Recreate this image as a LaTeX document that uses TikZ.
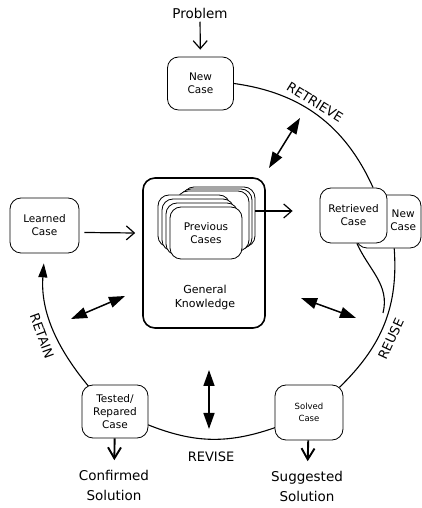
\documentclass[tikz,border=0pt]{standalone}
\usepackage{fontspec}
\setmainfont{DejaVu Sans}
\usetikzlibrary{arrows.meta,backgrounds}

\begin{document}
\begin{tikzpicture}[x=1pt,y=1pt,
  casebox/.style={draw, fill=white, line width=0.8pt, rounded corners=11pt, minimum width=66pt, minimum height=53pt, align=center, inner sep=2pt, font=\fontsize{10.5}{13}\selectfont},
  card/.style={draw, fill=white, line width=0.8pt, rounded corners=11pt, minimum width=72pt, minimum height=52pt, align=center, font=\fontsize{10.5}{13}\selectfont},
  outside/.style={align=center, font=\fontsize{13.5}{20}\selectfont},
  phase/.style={font=\fontsize{13}{15}\selectfont},
  cycle/.style={line width=1.1pt},
  barb/.style={-{Straight Barb[length=8pt,width=14pt]}, line width=1.2pt},
  solbarb/.style={-{Straight Barb[length=11pt,width=13pt]}, line width=1.9pt},
  exchange/.style={{Triangle[length=16pt,width=11pt]}-{Triangle[length=16pt,width=11pt]}, line width=1.5pt}]
\useasboundingbox (0,0) rectangle (422,508);

\node[outside] (problem) at (200,495) {Problem};
\node[casebox] (newcase) at (200.5,424.5) {New\\Case};
\node[casebox, minimum width=69pt, minimum height=55pt] (learned) at (44.5,282.5) {Learned\\Case};
\node[draw, line width=1.6pt, rounded corners=12pt, minimum width=122pt, minimum height=150pt] (gk) at (204,255) {};
\node[font=\fontsize{11}{14}\selectfont, align=center] (general) at (205,211) {General\\Knowledge};
\foreach \i in {0,1,2}
  \node[card, minimum height=60pt] (back\i) at ({219-3*\i},{291-2*\i}) {};
\foreach \i in {0,1,2}
  \node[card] (front\i) at ({194+4*\i},{287-4*\i}) {};
\node[card] (prev) at (206,275) {Previous\\Cases};
\node[casebox, minimum width=65pt, text width=55pt, inner xsep=5pt, align=right] (newcase2) at (388.5,286.5) {\begin{tabular}{@{}c@{}}New\\Case\end{tabular}};
\node[casebox, minimum width=67pt, minimum height=55pt] (retrieved) at (353.5,292.5) {Retrieved\\Case};
\node[casebox, minimum width=68pt, minimum height=55pt, font=\fontsize{8.5}{12}\selectfont] (solved) at (309,95.5) {Solved\\Case};
\node[casebox] (tested) at (115,96.5) {Tested/\\Repared\\Case};
\node[outside] (suggested) at (307,22) {Suggested\\Solution};
\node[outside] (confirmed) at (114,23) {Confirmed\\Solution};

\node[phase, rotate=-32] (retrieve) at (315,406) {RETRIEVE};
\node[phase, rotate=65] (reuse) at (391,169) {REUSE};
\node[phase] (revise) at (211,51) {REVISE};
\node[phase, rotate=-70] (retain) at (42,172) {RETAIN};
\coordinate (merge) at (383,195);

\begin{scope}[on background layer]
\draw[cycle] (newcase.east) to[bend left=29] (retrieved.55);
\draw[cycle, shorten >=-4pt] (newcase2.-78) to[bend left=25] (solved.40);
\draw[cycle] (retrieved.-83) to[out=-66, in=76] (merge);
\draw[cycle, shorten <=-4pt, shorten >=-4pt] (solved.204) to[bend left=21] (tested.-22);
\draw[cycle, shorten <=-4pt, -{Triangle[length=14pt,width=9pt]}, shorten >=10pt] (tested.136) to[bend left=22] (learned.south);
\end{scope}

\draw[barb, shorten >=7pt] (problem) -- (newcase);
\draw[barb] ([shift={(5pt,-7pt)}]learned.east) -- ([shift={(-7pt,20pt)}]gk.west);
\draw[barb] ([yshift=6pt]back0.east) -- ([shift={(-27pt,4.5pt)}]retrieved.west);
\draw[solbarb, shorten >=6pt] (solved) -- (suggested);
\draw[solbarb, shorten >=6pt] (tested) -- (confirmed);

\draw[exchange] (269,340) -- (300,390);
\draw[exchange] (301,210) -- (356,190);
\draw[exchange] (209,138) -- (209,79);
\draw[exchange] (71,189) -- (125,212);
\end{tikzpicture}
\end{document}
